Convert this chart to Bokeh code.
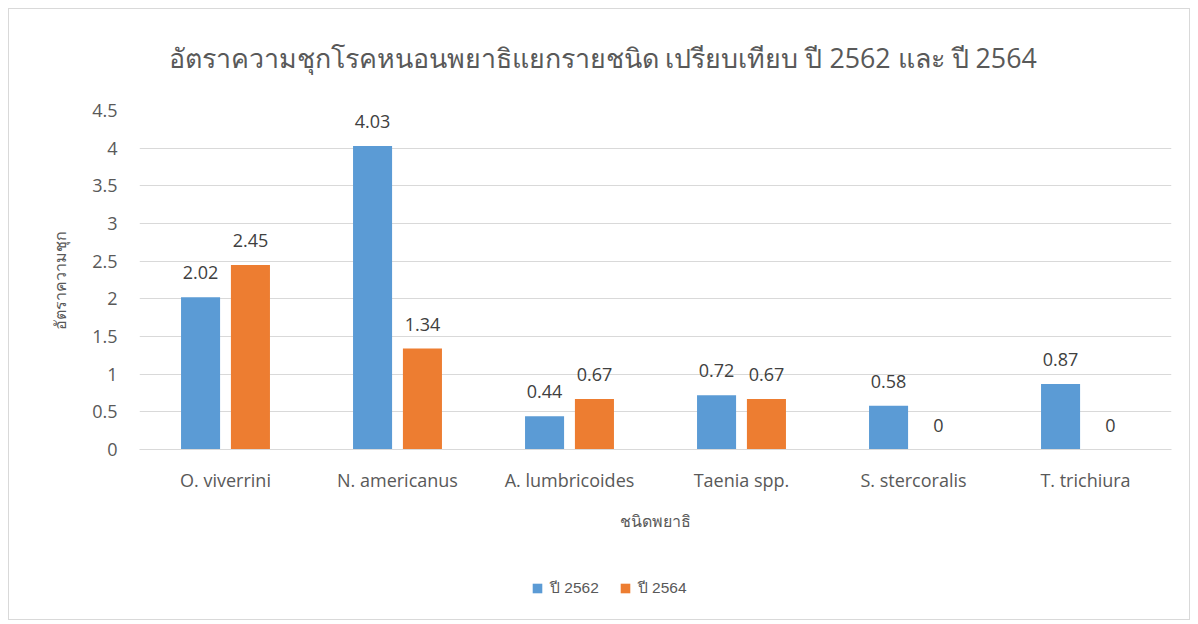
from bokeh.plotting import figure
from bokeh.models import ColumnDataSource, FactorRange, Range1d, LabelSet, Legend, LegendItem, Title
from bokeh.layouts import column
from bokeh.transform import dodge
from bokeh.core.properties import value
from bokeh.embed import file_html
from bokeh.resources import INLINE

species = ["O. viverrini", "N. americanus", "A. lumbricoides", "Taenia spp.", "S. stercoralis", "T. trichiura"]
rate_2562 = [2.02, 4.03, 0.44, 0.72, 0.58, 0.87]
rate_2564 = [2.45, 1.34, 0.67, 0.67, 0, 0]
series_names = ["ปี 2562", "ปี 2564"]
series_colors = ["#5B9BD5", "#ED7D31"]
y_ticks = [0, 0.5, 1, 1.5, 2, 2.5, 3, 3.5, 4, 4.5]
y_tick_labels = ["0", "0.5", "1", "1.5", "2", "2.5", "3", "3.5", "4", "4.5"]
title_text = "อัตราความชุกโรคหนอนพยาธิแยกรายชนิด เปรียบเทียบ ปี 2562 และ ปี 2564"
x_label = "ชนิดพยาธิ"
y_label = "อัตราความชุก"

src = ColumnDataSource(dict(
    sp=species,
    a=rate_2562,
    b=rate_2564,
    la=[f"{v:g}" for v in rate_2562],
    lb=[f"{v:g}" for v in rate_2564],
))

FONT = "Open Sans"
GREY = "#595959"

p = figure(
    title=None,
    x_range=FactorRange(*species, range_padding=0),
    y_range=Range1d(0, 4.5),
    width=1180, height=540,
    frame_width=1032, frame_height=339,
    output_backend="svg", toolbar_location=None,
    min_border_left=130, min_border_right=18, min_border_top=101, min_border_bottom=100,
)
p.outline_line_color = None
p.background_fill_color = "white"
p.border_fill_color = "white"

# blank spacer between the frame and the title (first added = closest to frame)
top_spacer = Title(text=" ", text_font=FONT, text_font_size="24px", standoff=0, text_color="white")
p.add_layout(top_spacer, "above")
t = Title(text=title_text, align="left", offset=29, standoff=0,
          text_font=FONT, text_font_size="26.8px", text_font_style="normal", text_color=GREY)
p.add_layout(t, "above")

w = 0.227
r1 = p.vbar(x=dodge("sp", -0.145, range=p.x_range), top="a", width=w, source=src,
            fill_color=series_colors[0], line_color=None)
r2 = p.vbar(x=dodge("sp", 0.145, range=p.x_range), top="b", width=w, source=src,
            fill_color=series_colors[1], line_color=None)

for col, lab, off in (("a", "la", -0.145), ("b", "lb", 0.145)):
    ls = LabelSet(x=dodge("sp", off, range=p.x_range), y=col, text=lab, source=src,
                  text_align="center", text_baseline="alphabetic", y_offset=18,
                  text_font=value(FONT), text_font_size="18px", text_color="#404040")
    p.add_layout(ls)

p.xgrid.grid_line_color = None
p.ygrid.grid_line_color = "#d9d9d9"
p.ygrid.grid_line_width = 1

p.yaxis.ticker = y_ticks
p.yaxis.major_label_overrides = {v: s for v, s in zip(y_ticks, y_tick_labels)}
p.yaxis.axis_line_color = None
p.yaxis.major_tick_line_color = None
p.yaxis.minor_tick_line_color = None
p.yaxis.major_label_standoff = 16
p.yaxis.major_label_text_font = FONT
p.yaxis.major_label_text_font_size = "18px"
p.yaxis.major_label_text_color = GREY
p.yaxis.axis_label = y_label
p.yaxis.axis_label_text_font = FONT
p.yaxis.axis_label_text_font_size = "16px"
p.yaxis.axis_label_text_font_style = "normal"
p.yaxis.axis_label_text_color = GREY
p.yaxis.axis_label_standoff = 18

p.xaxis.axis_line_color = "#d9d9d9"
p.xaxis.major_tick_line_color = None
p.xaxis.minor_tick_line_color = None
p.xaxis.major_label_standoff = 12
p.xaxis.major_label_text_font = FONT
p.xaxis.major_label_text_font_size = "18px"
p.xaxis.major_label_text_color = GREY
p.xaxis.axis_label = x_label
p.xaxis.axis_label_text_font = FONT
p.xaxis.axis_label_text_font_size = "16px"
p.xaxis.axis_label_text_font_style = "normal"
p.xaxis.axis_label_text_color = GREY
p.xaxis.axis_label_standoff = 15

# legend strip below the chart (its frame is aligned with the chart's frame)
pl = figure(width=1180, height=70, output_backend="svg", toolbar_location=None,
            x_range=Range1d(0, 1), y_range=Range1d(0, 1),
            x_axis_location=None, y_axis_location=None, min_border=0)
pl.grid.visible = False
pl.outline_line_color = None
pl.background_fill_color = "white"
pl.border_fill_color = "white"
# zero-height proxy bars outside the visible range, only used for the legend swatches
proxy_src = ColumnDataSource(dict(x=[-5], top=[0]))
g1 = pl.vbar(x="x", top="top", width=0.1, source=proxy_src, fill_color=series_colors[0], line_color=None)
g2 = pl.vbar(x="x", top="top", width=0.1, source=proxy_src, fill_color=series_colors[1], line_color=None)

legend = Legend(
    items=[LegendItem(label=series_names[0], renderers=[g1]),
           LegendItem(label=series_names[1], renderers=[g2])],
    location=(392, 19), orientation="horizontal",
    border_line_color=None, background_fill_alpha=0,
    padding=0, margin=0, spacing=20, label_standoff=7,
    glyph_width=12, glyph_height=12, label_height=16,
    label_text_font="Liberation Sans", label_text_font_size="15.5px", label_text_color=GREY,
)
pl.add_layout(legend, "center")

layout = column(p, pl, spacing=0)
layout.margin = (8, 0, 0, 8)
layout.styles = {"border": "1px solid #d9d9d9", "background-color": "white"}

open("out.html", "w").write(file_html(layout, INLINE))
